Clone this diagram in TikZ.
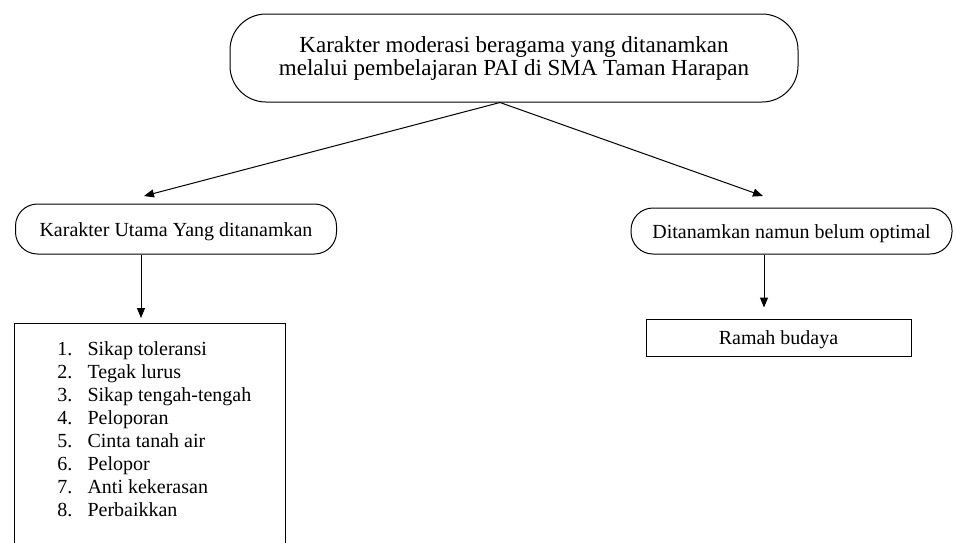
\documentclass[tikz,border=0pt]{standalone}
\usepackage{fontspec}
\setmainfont{Liberation Serif}
\usepackage{xcolor}
\usepackage{tikz}
\usetikzlibrary{arrows.meta}

\begin{document}
\begin{tikzpicture}[x=1pt, y=-1pt,
		every node/.style={font=\fontsize{20}{23}\selectfont, inner sep=0pt},
		bulat/.style={draw, line width=1pt, align=center},
		kotak/.style={draw, line width=1pt},
		satubaris/.style={text height=14pt, text depth=0pt},
		panah/.style={line width=1pt, -{Triangle[length=10pt, width=8pt]}}]
		\clip (0,0) rectangle (955,542);
		\node[bulat, rounded corners=36pt, minimum width=568pt, minimum height=88pt,
			font=\fontsize{23}{23}\selectfont] (moderasi) at (514,58)
			{Karakter moderasi beragama yang ditanamkan\\
			melalui pembelajaran PAI di SMA Taman Harapan};
		\node[bulat, satubaris, rounded corners=22pt, minimum width=321pt, minimum height=50pt] (utama) at (176,229)
			{Karakter Utama Yang ditanamkan};
		\node[bulat, satubaris, rounded corners=22pt, minimum width=321pt, minimum height=46pt] (belum) at (791.5,231)
			{Ditanamkan namun belum optimal};
		\node[kotak, satubaris, minimum width=265pt, minimum height=37pt] (ramah) at (778.5,337.5) {Ramah budaya};
		\node[kotak, anchor=north west, inner ysep=16pt] (daftar) at (14,323) {%
			\begin{tabular}{@{\hspace{43pt}}p{30pt}@{}p{198pt}@{}}
				1. & Sikap toleransi\\
				2. & Tegak lurus\\
				3. & Sikap tengah-tengah\\
				4. & Peloporan\\
				5. & Cinta tanah air\\
				6. & Pelopor\\
				7. & Anti kekerasan\\
				8. & Perbaikkan\rule[-40pt]{0pt}{40pt}
			\end{tabular}};
		\coordinate (kiri) at (144,196);
		\coordinate (kanan) at (763,196);
		\draw[panah] ([xshift=-14pt]moderasi.south) -- (kiri);
		\draw[panah] ([xshift=-14pt]moderasi.south) -- (kanan);
		\draw[panah, shorten >=5pt] (utama.south -| 141,0) -- (daftar.north -| 141,0);
		\draw[panah, shorten >=11pt] (belum.south -| 764,0) -- (ramah.north -| 764,0);
\end{tikzpicture}
\end{document}
